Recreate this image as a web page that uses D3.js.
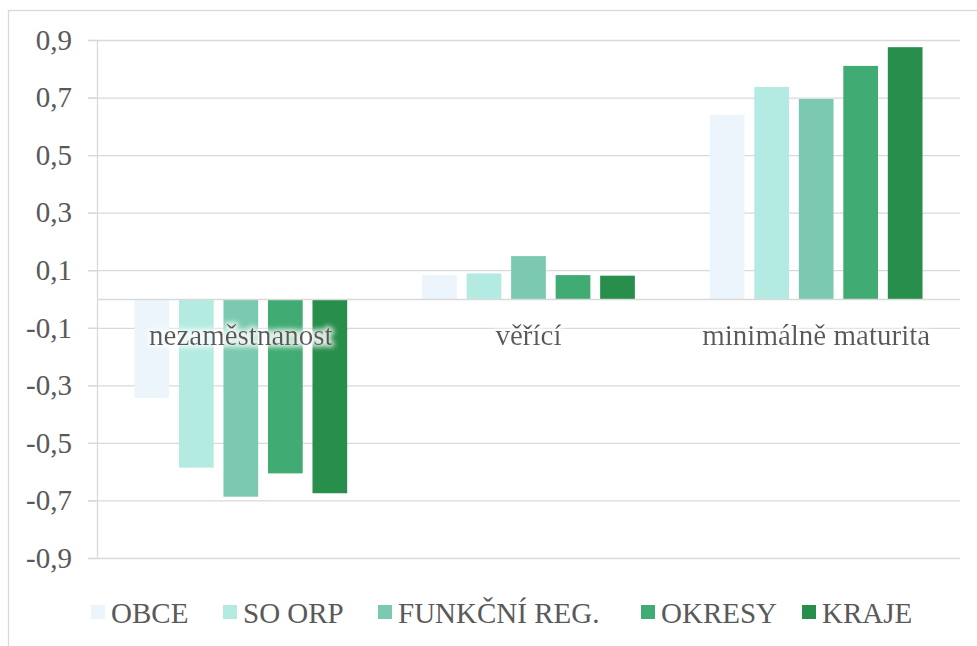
<!DOCTYPE html>
<html>
<head>
<meta charset="utf-8">
<script src="https://cdn.jsdelivr.net/npm/d3@7"></script>
<style>
  body { margin: 0; background: #fff; }
  svg text { font-family: "Liberation Serif", "Tinos", "Times New Roman", "DejaVu Serif", serif; fill: #595959; }
</style>
</head>
<body>
<div id="chart"></div>
<script>
var categories = ["nezaměstnanost", "věřící", "minimálně maturita"];
var series = ["OBCE", "SO ORP", "FUNKČNÍ REG.", "OKRESY", "KRAJE"];
var colors = ["#ebf5fb", "#b3ebe2", "#7ac9b0", "#40ab72", "#288e4c"];
var obce = [-0.344, 0.084, 0.640];
var soOrp = [-0.586, 0.089, 0.737];
var funkcni = [-0.687, 0.149, 0.695];
var okresy = [-0.606, 0.083, 0.810];
var kraje = [-0.675, 0.081, 0.875];
var yTicks = [-0.9, -0.7, -0.5, -0.3, -0.1, 0.1, 0.3, 0.5, 0.7, 0.9];

var values = [obce, soOrp, funkcni, okresy, kraje];
var data = categories.map(function(c, i) {
	return { cat: c, vals: series.map(function(s, j) { return { key: s, value: values[j][i], color: colors[j] }; }) };
});

var width = 977, height = 646;
var svg = d3.select("#chart").append("svg")
	.attr("width", width)
	.attr("height", height);

// chart frame
svg.append("rect")
	.attr("x", 8.5).attr("y", 10.5)
	.attr("width", 1000).attr("height", 700)
	.attr("fill", "none")
	.attr("stroke", "#d9d9d9")
	.attr("stroke-width", 1.3);

var defs = svg.append("defs");
var glow = defs.append("filter").attr("id", "glow")
	.attr("x", "-10%").attr("y", "-30%").attr("width", "120%").attr("height", "160%");
glow.append("feMorphology").attr("in", "SourceAlpha").attr("operator", "dilate").attr("radius", 2).attr("result", "d");
glow.append("feGaussianBlur").attr("in", "d").attr("stdDeviation", 2.5).attr("result", "b");
glow.append("feFlood").attr("flood-color", "#ffffff").attr("flood-opacity", 0.85);
glow.append("feComposite").attr("in2", "b").attr("operator", "in").attr("result", "g");
var merge = glow.append("feMerge");
merge.append("feMergeNode").attr("in", "g");
merge.append("feMergeNode").attr("in", "SourceGraphic");

var x0 = d3.scaleBand().domain(categories).range([97, 960]).paddingInner(0.2265).paddingOuter(0.11325);
var x1 = d3.scaleBand().domain(series).range([0, x0.bandwidth()]).paddingInner(0.22).paddingOuter(0.11);
var y = d3.scaleLinear().domain([-0.9, 0.9]).range([558, 40]);

// gridlines
svg.append("g")
	.attr("class", "grid")
	.attr("transform", "translate(960,0)")
	.call(d3.axisLeft(y).tickValues(yTicks).tickSize(960 - 88).tickFormat(""))
	.call(function(g) {
		g.select(".domain").remove();
		g.selectAll("line").attr("stroke", "#d9d9d9").attr("stroke-width", 1.3);
	});

// bars
var groups = svg.selectAll(".grp")
	.data(data)
	.enter().append("g")
	.attr("class", "grp")
	.attr("transform", function(d) { return "translate(" + x0(d.cat) + ",0)"; });

groups.selectAll("rect")
	.data(function(d) { return d.vals; })
	.enter().append("rect")
	.attr("x", function(d) { return x1(d.key); })
	.attr("y", function(d) { return y(Math.max(0, d.value)); })
	.attr("width", x1.bandwidth())
	.attr("height", function(d) { return Math.abs(y(d.value) - y(0)); })
	.attr("fill", function(d) { return d.color; });

// y axis
svg.append("g")
	.attr("class", "axis axis--y")
	.attr("transform", "translate(97,0)")
	.call(d3.axisLeft(y).tickValues(yTicks).tickSize(9).tickPadding(16)
		.tickFormat(function(d) { return String(d).replace(".", ","); }))
	.call(function(g) {
		g.attr("font-family", null);
		g.select(".domain").attr("stroke", "#d9d9d9").attr("stroke-width", 1.3).attr("d", "M0.5," + y(0.9) + "V" + y(-0.9));
		g.selectAll("line").attr("stroke", "#d9d9d9").attr("stroke-width", 1.3);
		g.selectAll("text").attr("font-size", "29px");
	});

// x axis (category labels at zero)
svg.append("g")
	.attr("class", "axis axis--x")
	.attr("transform", "translate(0," + y(0) + ")")
	.call(d3.axisBottom(x0).tickSize(0).tickPadding(0))
	.call(function(g) {
		g.attr("font-family", null);
		g.select(".domain").attr("stroke", "#d9d9d9").attr("stroke-width", 1.3).attr("d", "M97,0.5H960");
		g.selectAll("text")
			.attr("y", 46).attr("dy", 0)
			.attr("font-size", "29px")
			.attr("filter", "url(#glow)");
	});

// legend
var legendX = [91, 223, 378, 641, 802];
var legend = svg.selectAll(".legend")
	.data(series)
	.enter().append("g")
	.attr("class", "legend")
	.attr("transform", function(d, i) { return "translate(" + legendX[i] + ",605)"; });

legend.append("rect")
	.attr("width", 14).attr("height", 14)
	.attr("fill", function(d, i) { return colors[i]; });

legend.append("text")
	.attr("x", 20).attr("y", 18)
	.attr("font-size", "29px")
	.text(function(d) { return d; });
</script>
</body>
</html>
